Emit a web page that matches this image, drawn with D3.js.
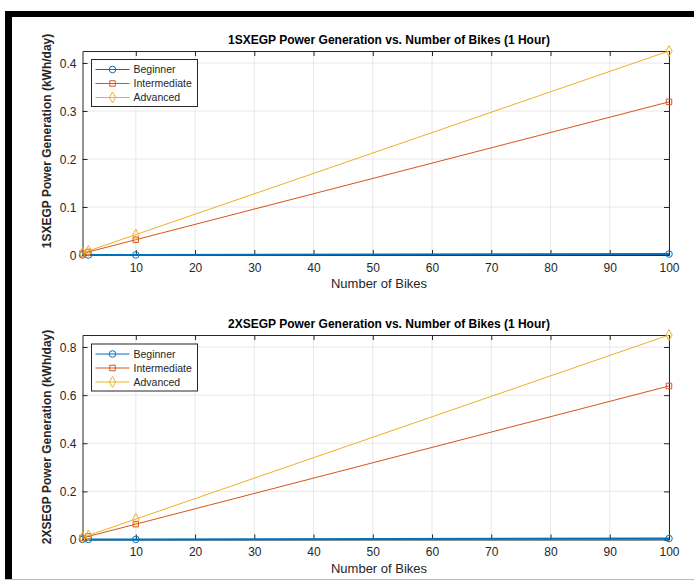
<!DOCTYPE html>
<html>
<head>
<meta charset="utf-8">
<script src="https://cdn.jsdelivr.net/npm/d3@7/dist/d3.min.js"></script>
<style>
  html, body { margin: 0; padding: 0; background: #fff; }
  svg { display: block; font-family: "Liberation Sans", Arial, sans-serif; }
</style>
</head>
<body>
<svg id="fig" width="694" height="586"></svg>
<script>
// Number of bikes pedalling for one hour
const bikes = [1, 2, 10, 100];
const seriesNames = ["Beginner", "Intermediate", "Advanced"];

// Single-generator (1SXEGP) output, kWh/day
const beginner1 = [0.00002, 0.00004, 0.0002, 0.002];
const intermediate1 = [0.0032, 0.0064, 0.0319, 0.319];
const advanced1 = [0.00425, 0.0085, 0.0425, 0.425];

// Dual-generator (2XSEGP) output, kWh/day
const beginner2 = [0.00004, 0.00008, 0.0004, 0.004];
const intermediate2 = [0.0064, 0.0128, 0.0638, 0.638];
const advanced2 = [0.0085, 0.017, 0.085, 0.85];

const xTicks = [10, 20, 30, 40, 50, 60, 70, 80, 90, 100];
const yTicks1 = [0, 0.1, 0.2, 0.3, 0.4];
const yTicks2 = [0, 0.2, 0.4, 0.6, 0.8];

const colors = ["#0072BD", "#D95319", "#EDB120"];
const symbols = [d3.symbolCircle, d3.symbolSquare, d3.symbolDiamond];
const symbolSizes = [34, 30, 34];

const svg = d3.select("#fig");

// Figure frame
svg.append("rect").attr("x", 5).attr("y", 11).attr("width", 689).attr("height", 6).attr("fill", "#000");
svg.append("rect").attr("x", 5).attr("y", 11).attr("width", 7).attr("height", 568).attr("fill", "#000");
svg.append("line").attr("x1", 5).attr("x2", 694).attr("y1", 579.5).attr("y2", 579.5)
  .attr("stroke", "#bbb").attr("stroke-width", 1);

function drawPanel(cfg) {
  const x = d3.scaleLinear().domain([1, 100]).range([82.5, 669]);
  const y = d3.scaleLinear().domain([0, cfg.yMax]).range([cfg.bottom, cfg.top]);
  const g = svg.append("g");

  // grid
  g.append("g").selectAll("line").data(xTicks).join("line")
    .attr("x1", d => x(d)).attr("x2", d => x(d))
    .attr("y1", cfg.top).attr("y2", cfg.bottom)
    .attr("stroke", "#e8e8e8").attr("stroke-width", 1);
  g.append("g").selectAll("line").data(cfg.yTicks).join("line")
    .attr("x1", x(1)).attr("x2", x(100))
    .attr("y1", d => y(d)).attr("y2", d => y(d))
    .attr("stroke", "#e8e8e8").attr("stroke-width", 1);

  // axes (ticks pointing inward)
  const fmtY = d => d === 0 ? "0" : d3.format(".1f")(d);
  const xAxis = g.append("g").attr("transform", `translate(0,${cfg.bottom})`)
    .call(d3.axisBottom(x).tickValues(xTicks).tickSizeInner(-5).tickSizeOuter(0).tickPadding(8));
  const xTop = g.append("g").attr("transform", `translate(0,${cfg.top})`)
    .call(d3.axisTop(x).tickValues(xTicks).tickSizeInner(-5).tickSizeOuter(0).tickFormat(""));
  const yAxis = g.append("g").attr("transform", `translate(${x(1)},0)`)
    .call(d3.axisLeft(y).tickValues(cfg.yTicks).tickFormat(fmtY).tickSizeInner(-5).tickSizeOuter(0).tickPadding(6));
  const yRight = g.append("g").attr("transform", `translate(${x(100)},0)`)
    .call(d3.axisRight(y).tickValues(cfg.yTicks).tickSizeInner(-5).tickSizeOuter(0).tickFormat(""));
  [xAxis, xTop, yAxis, yRight].forEach(a => {
    a.select(".domain").attr("stroke", "#262626");
    a.selectAll(".tick line").attr("stroke", "#262626");
    a.selectAll("text").attr("fill", "#262626").style("font-size", "12px");
  });
  yAxis.selectAll("text").attr("dy", "0.35em");

  // series
  const line = d3.line().x(d => x(d[0])).y(d => y(d[1]));
  cfg.series.forEach((vals, i) => {
    const pts = bikes.map((b, j) => [b, vals[j]]);
    g.append("path").datum(pts).attr("d", line)
      .attr("fill", "none").attr("stroke", colors[i]).attr("stroke-width", i === 0 ? 2 : 1);
    g.append("g").selectAll("path").data(pts).join("path")
      .attr("transform", d => `translate(${x(d[0])},${y(d[1])})`)
      .attr("d", d3.symbol(symbols[i], symbolSizes[i]))
      .attr("fill", "none").attr("stroke", colors[i]).attr("stroke-width", 1);
  });

  // title and axis labels
  svg.append("text").attr("x", 389).attr("y", cfg.top - 7).attr("text-anchor", "middle")
    .attr("font-weight", "bold").attr("font-size", "12px").attr("fill", "#000").text(cfg.title);
  svg.append("text").attr("x", 379).attr("y", cfg.bottom + 33).attr("text-anchor", "middle")
    .attr("font-size", "13px").attr("fill", "#262626").text("Number of Bikes");
  svg.append("text")
    .attr("transform", `translate(51,${cfg.ylabelCenter}) rotate(-90)`)
    .attr("text-anchor", "middle").attr("font-size", "12px").attr("font-weight", "bold")
    .attr("fill", "#262626").text(cfg.ylabel);

  // legend
  const lx = 91.5, ly = cfg.legendTop;
  svg.append("rect").attr("x", lx).attr("y", ly).attr("width", 106).attr("height", 47)
    .attr("fill", "#fff").attr("stroke", "#262626").attr("stroke-width", 1);
  seriesNames.forEach((name, i) => {
    const yy = ly + 10 + i * 14;
    svg.append("line").attr("x1", lx + 4).attr("x2", lx + 38).attr("y1", yy).attr("y2", yy)
      .attr("stroke", colors[i]).attr("stroke-width", 1);
    svg.append("path").attr("transform", `translate(${lx + 21},${yy})`)
      .attr("d", d3.symbol(symbols[i], symbolSizes[i]))
      .attr("fill", "none").attr("stroke", colors[i]);
    svg.append("text").attr("x", lx + 42).attr("y", yy).attr("dy", "0.35em")
      .attr("font-size", "10.5px").attr("fill", "#262626").text(name);
  });
}

drawPanel({
  top: 51, bottom: 255, yMax: 0.425, yTicks: yTicks1,
  series: [beginner1, intermediate1, advanced1],
  title: "1SXEGP Power Generation vs. Number of Bikes (1 Hour)",
  ylabel: "1SXEGP Power Generation (kWh/day)",
  ylabelCenter: 141,
  legendTop: 59.5
});
drawPanel({
  top: 335, bottom: 539.5, yMax: 0.85, yTicks: yTicks2,
  series: [beginner2, intermediate2, advanced2],
  title: "2XSEGP Power Generation vs. Number of Bikes (1 Hour)",
  ylabel: "2XSEGP Power Generation (kWh/day)",
  ylabelCenter: 437,
  legendTop: 344
});
</script>
</body>
</html>
